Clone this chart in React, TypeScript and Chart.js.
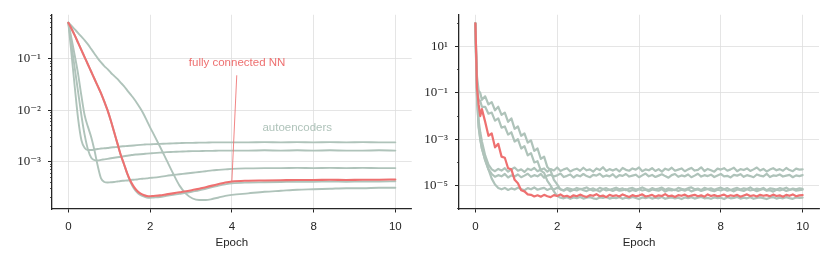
import React, { useEffect, useRef } from 'react';
import { Chart, registerables } from 'chart.js';

Chart.register(...registerables);

const GRAY = '#afc3ba';
const RED = '#ee7070';
const AXIS = '#262626';
const GRID = '#dedede';
const SANS = '"Liberation Sans", Arial, sans-serif';
const SERIF = '"Liberation Serif", "DejaVu Serif", serif';

// ---- shared x axis ticks ----
const xTickPositions = [0, 2.5, 5, 7.5, 10];
const xTickLabels = ['0', '2', '4', '8', '10'];

// ---- left panel (log10 of loss) ----
const leftX = [0, 0.1, 0.2, 0.3, 0.4, 0.5, 0.6, 0.7, 0.8, 0.9, 1.0, 1.1, 1.2, 1.3, 1.4, 1.5, 1.6, 1.7, 1.8, 1.9, 2.0, 2.1, 2.2, 2.3, 2.4, 2.5, 2.6, 2.8, 3.0, 3.2, 3.4, 3.6, 3.8, 4.0, 4.2, 4.4, 4.6, 4.8, 5.0, 5.5, 6.0, 6.5, 7.0, 7.5, 8.0, 8.5, 9.0, 9.5, 10.0];

const leftFcnnLog = [-0.30, -0.42, -0.55, -0.69, -0.83, -0.97, -1.11, -1.25, -1.39, -1.53, -1.67, -1.83, -2.00, -2.20, -2.42, -2.64, -2.86, -3.04, -3.22, -3.37, -3.48, -3.56, -3.61, -3.64, -3.66, -3.665, -3.66, -3.65, -3.63, -3.61, -3.59, -3.57, -3.545, -3.52, -3.49, -3.46, -3.43, -3.40, -3.38, -3.365, -3.36, -3.355, -3.35, -3.35, -3.345, -3.35, -3.345, -3.345, -3.34];

const leftAe1Log = [-0.30, -0.93, -1.57, -2.17, -2.58, -2.73, -2.77, -2.77, -2.76, -2.75, -2.74, -2.735, -2.73, -2.72, -2.715, -2.71, -2.70, -2.695, -2.69, -2.685, -2.68, -2.675, -2.67, -2.665, -2.66, -2.66, -2.655, -2.65, -2.645, -2.64, -2.635, -2.63, -2.63, -2.625, -2.625, -2.62, -2.62, -2.62, -2.62, -2.62, -2.615, -2.62, -2.615, -2.62, -2.615, -2.62, -2.615, -2.62, -2.62];

const leftAe2Log = [-0.30, -0.75, -1.20, -1.65, -2.10, -2.48, -2.76, -2.92, -2.965, -2.97, -2.96, -2.95, -2.94, -2.93, -2.92, -2.91, -2.90, -2.89, -2.88, -2.87, -2.86, -2.855, -2.85, -2.845, -2.84, -2.835, -2.83, -2.82, -2.81, -2.805, -2.80, -2.795, -2.79, -2.79, -2.785, -2.785, -2.78, -2.78, -2.78, -2.78, -2.775, -2.78, -2.775, -2.78, -2.775, -2.78, -2.78, -2.775, -2.78];

const leftAe3Log = [-0.30, -0.62, -0.95, -1.30, -1.72, -2.10, -2.32, -2.52, -2.78, -3.08, -3.32, -3.39, -3.40, -3.395, -3.39, -3.38, -3.37, -3.365, -3.36, -3.35, -3.345, -3.34, -3.33, -3.325, -3.32, -3.31, -3.305, -3.29, -3.27, -3.255, -3.24, -3.225, -3.21, -3.195, -3.18, -3.165, -3.155, -3.145, -3.135, -3.125, -3.12, -3.12, -3.115, -3.12, -3.115, -3.12, -3.115, -3.12, -3.12];

const leftAe4Log = [-0.30, -0.42, -0.55, -0.69, -0.83, -0.97, -1.11, -1.25, -1.39, -1.53, -1.67, -1.83, -2.00, -2.20, -2.42, -2.64, -2.86, -3.04, -3.23, -3.39, -3.51, -3.59, -3.64, -3.67, -3.69, -3.695, -3.69, -3.68, -3.66, -3.64, -3.62, -3.60, -3.575, -3.55, -3.52, -3.49, -3.46, -3.435, -3.415, -3.40, -3.395, -3.39, -3.385, -3.385, -3.38, -3.385, -3.38, -3.38, -3.375];

const leftAe5Log = [-0.30, -0.36, -0.43, -0.50, -0.57, -0.64, -0.72, -0.81, -0.90, -0.99, -1.07, -1.14, -1.20, -1.27, -1.33, -1.39, -1.46, -1.53, -1.61, -1.69, -1.77, -1.86, -1.96, -2.07, -2.20, -2.33, -2.45, -2.70, -2.96, -3.22, -3.46, -3.62, -3.71, -3.74, -3.74, -3.72, -3.69, -3.66, -3.64, -3.61, -3.58, -3.56, -3.54, -3.53, -3.52, -3.51, -3.51, -3.50, -3.50];

const leftYMin = 1.22e-4;
const leftYMax = 0.716;
const leftYTickValues = [1e-1, 1e-2, 1e-3];
const leftYTickLabels = ['10⁻¹', '10⁻²', '10⁻³'];
const leftYMinorValues = [2e-4, 3e-4, 4e-4, 5e-4, 6e-4, 7e-4, 8e-4, 9e-4, 2e-3, 3e-3, 4e-3, 5e-3, 6e-3, 7e-3, 8e-3, 9e-3, 2e-2, 3e-2, 4e-2, 5e-2, 6e-2, 7e-2, 8e-2, 9e-2, 2e-1, 3e-1, 4e-1, 5e-1, 6e-1, 7e-1];

const annotationTexts = [
  { text: 'fully connected NN', x: 5.16, y: 0.083, color: RED },
  { text: 'autoencoders', x: 7.0, y: 4.6e-3, color: GRAY },
];
const annotationArrow = { fromX: 5.15, fromY: 0.048, toX: 5.0, toY: 4.17e-4 };

// ---- right panel (log10 of loss) ----
const rightX = [0, 0.02, 0.05, 0.1, 0.15, 0.2,
  0.3, 0.4, 0.5, 0.6, 0.7, 0.8, 0.9, 1.0, 1.1, 1.2,
  1.3, 1.4, 1.5, 1.6, 1.7, 1.8, 1.9, 2.0, 2.1, 2.2,
  2.3, 2.4, 2.5, 2.6, 2.7, 2.8, 2.9, 3.0, 3.1, 3.2,
  3.3, 3.4, 3.5, 3.6, 3.7, 3.8, 3.9, 4.0, 4.1, 4.2,
  4.3, 4.4, 4.5, 4.6, 4.7, 4.8, 4.9, 5.0, 5.1, 5.2,
  5.3, 5.4, 5.5, 5.6, 5.7, 5.8, 5.9, 6.0, 6.1, 6.2,
  6.3, 6.4, 6.5, 6.6, 6.7, 6.8, 6.9, 7.0, 7.1, 7.2,
  7.3, 7.4, 7.5, 7.6, 7.7, 7.8, 7.9, 8.0, 8.1, 8.2,
  8.3, 8.4, 8.5, 8.6, 8.7, 8.8, 8.9, 9.0, 9.1, 9.2,
  9.3, 9.4, 9.5, 9.6, 9.7, 9.8, 9.9, 10.0];

const rightFcnnLog = [2.0, 1.0, -0.8, -1.5, -2.0, -1.7,
  -2.25, -2.85, -2.75, -3.35, -3.2, -3.75, -3.8, -4.25, -4.3, -4.75,
  -4.9, -5.2, -5.25, -5.38, -5.4, -5.47, -5.42, -5.48, -5.4, -5.46,
  -5.5, -5.41, -5.45, -5.38, -5.47, -5.44, -5.5, -5.42, -5.46, -5.39,
  -5.45, -5.49, -5.41, -5.44, -5.37, -5.46, -5.43, -5.5, -5.4, -5.45,
  -5.42, -5.47, -5.38, -5.44, -5.49, -5.41, -5.46, -5.43, -5.38, -5.47,
  -5.44, -5.4, -5.48, -5.42, -5.45, -5.37, -5.46, -5.43, -5.49, -5.41,
  -5.44, -5.39, -5.47, -5.43, -5.4, -5.46, -5.42, -5.48, -5.38, -5.45,
  -5.41, -5.46, -5.43, -5.39, -5.47, -5.42, -5.45, -5.4, -5.48, -5.43,
  -5.38, -5.45, -5.42, -5.47, -5.4, -5.44, -5.41, -5.46, -5.39, -5.45,
  -5.42, -5.48, -5.4, -5.44, -5.38, -5.46, -5.42, -5.41];

const rightAe1Log = [2.0, 0.8, -1.0, -2.2, -2.7, -3.1,
  -3.7, -4.1, -4.3, -4.38, -4.28, -4.35, -4.25, -4.4, -4.3, -4.22,
  -4.36, -4.3, -4.41, -4.27, -4.33, -4.24, -4.38, -4.31, -4.26, -4.4,
  -4.29, -4.35, -4.22, -4.37, -4.3, -4.25, -4.39, -4.32, -4.27, -4.36,
  -4.23, -4.34, -4.3, -4.4, -4.26, -4.33, -4.21, -4.37, -4.29, -4.35,
  -4.28, -4.39, -4.24, -4.32, -4.36, -4.26, -4.31, -4.22, -4.38, -4.3,
  -4.34, -4.25, -4.37, -4.29, -4.4, -4.27, -4.33, -4.23, -4.36, -4.31,
  -4.26, -4.38, -4.3, -4.24, -4.35, -4.32, -4.21, -4.37, -4.28, -4.34,
  -4.4, -4.27, -4.31, -4.25, -4.36, -4.3, -4.23, -4.38, -4.29, -4.33,
  -4.26, -4.37, -4.3, -4.22, -4.35, -4.28, -4.39, -4.31, -4.25, -4.34,
  -4.29, -4.36, -4.24, -4.33, -4.38, -4.27, -4.31, -4.3];

const rightAe2Log = [2.0, 0.5, -1.2, -2.5, -3.0, -3.4,
  -3.9, -4.3, -4.5, -4.62, -4.55, -4.6, -4.5, -4.65, -4.56, -4.61,
  -4.52, -4.64, -4.57, -4.49, -4.62, -4.55, -4.6, -4.5, -4.66, -4.57,
  -4.53, -4.61, -4.56, -4.48, -4.63, -4.58, -4.52, -4.65, -4.55, -4.6,
  -4.5, -4.59, -4.64, -4.54, -4.57, -4.49, -4.62, -4.56, -4.6, -4.51,
  -4.65, -4.55, -4.58, -4.5, -4.61, -4.57, -4.53, -4.64, -4.56, -4.48,
  -4.6, -4.54, -4.63, -4.57, -4.51, -4.59, -4.66, -4.55, -4.5, -4.62,
  -4.56, -4.6, -4.52, -4.64, -4.57, -4.49, -4.61, -4.55, -4.59, -4.53,
  -4.63, -4.56, -4.5, -4.6, -4.58, -4.65, -4.54, -4.57, -4.51, -4.62,
  -4.55, -4.59, -4.64, -4.52, -4.57, -4.6, -4.49, -4.63, -4.56, -4.58,
  -4.52, -4.61, -4.57, -4.54, -4.64, -4.56, -4.59, -4.55];

const rightAe3Log = [2.0, 0.6, -1.1, -2.4, -3.0, -3.4,
  -3.9, -4.3, -4.7, -4.95, -5.1, -5.16, -5.1, -5.19, -5.12, -5.17,
  -5.09, -5.15, -5.2, -5.11, -5.16, -5.08, -5.18, -5.13, -5.1, -5.19,
  -5.12, -5.17, -5.09, -5.15, -5.2, -5.11, -5.14, -5.18, -5.1, -5.16,
  -5.13, -5.08, -5.17, -5.12, -5.19, -5.1, -5.15, -5.11, -5.18, -5.14,
  -5.09, -5.16, -5.12, -5.2, -5.13, -5.1, -5.17, -5.14, -5.08, -5.15,
  -5.19, -5.11, -5.16, -5.13, -5.09, -5.18, -5.12, -5.15, -5.2, -5.1,
  -5.14, -5.17, -5.11, -5.08, -5.16, -5.13, -5.19, -5.1, -5.15, -5.12,
  -5.18, -5.13, -5.09, -5.16, -5.11, -5.19, -5.14, -5.1, -5.17, -5.12,
  -5.15, -5.08, -5.18, -5.13, -5.16, -5.1, -5.2, -5.12, -5.14, -5.17,
  -5.11, -5.15, -5.09, -5.18, -5.13, -5.16, -5.12, -5.14];

const rightAe4Log = [2.0, 1.0, -0.3, -0.9, -1.0, -1.3,
  -1.15, -1.5, -1.4, -1.75, -1.6, -1.95, -1.85, -2.25, -2.1, -2.55,
  -2.45, -2.85, -2.75, -3.15, -3.05, -3.5, -3.4, -3.85, -3.75, -4.2,
  -4.35, -4.75, -4.95, -5.17, -5.22, -5.15, -5.25, -5.18, -5.21, -5.14,
  -5.2, -5.24, -5.16, -5.22, -5.19, -5.26, -5.15, -5.21, -5.18, -5.23,
  -5.17, -5.22, -5.2, -5.15, -5.25, -5.19, -5.23, -5.16, -5.21, -5.18,
  -5.24, -5.17, -5.2, -5.22, -5.15, -5.26, -5.19, -5.21, -5.17, -5.23,
  -5.18, -5.22, -5.16, -5.25, -5.2, -5.17, -5.23, -5.19, -5.15, -5.21,
  -5.24, -5.18, -5.21, -5.16, -5.22, -5.19, -5.25, -5.17, -5.2, -5.23,
  -5.16, -5.21, -5.18, -5.24, -5.19, -5.15, -5.22, -5.2, -5.26, -5.18,
  -5.21, -5.17, -5.23, -5.19, -5.16, -5.22, -5.2, -5.18];

const rightAe5Log = [2.0, 0.7, -0.6, -1.3, -1.35, -1.6,
  -1.6, -1.9, -1.85, -2.2, -2.1, -2.5, -2.45, -2.8, -2.7, -3.1,
  -3.0, -3.4, -3.3, -3.7, -3.6, -4.0, -3.95, -4.35, -4.45, -4.8,
  -5.0, -5.25, -5.45, -5.52, -5.55, -5.5, -5.57, -5.51, -5.54, -5.49,
  -5.56, -5.52, -5.5, -5.55, -5.58, -5.51, -5.53, -5.49, -5.56, -5.52,
  -5.54, -5.5, -5.57, -5.52, -5.55, -5.49, -5.53, -5.58, -5.51, -5.54,
  -5.5, -5.56, -5.52, -5.55, -5.49, -5.57, -5.53, -5.51, -5.55, -5.52,
  -5.58, -5.51, -5.54, -5.5, -5.56, -5.52, -5.49, -5.55, -5.53, -5.57,
  -5.51, -5.54, -5.52, -5.58, -5.5, -5.55, -5.53, -5.49, -5.56, -5.52,
  -5.55, -5.5, -5.57, -5.53, -5.51, -5.54, -5.58, -5.52, -5.5, -5.56,
  -5.52, -5.55, -5.5, -5.54, -5.57, -5.51, -5.53, -5.52];

const rightYMin = 9.77e-7;
const rightYMax = 234;
const rightYTickValues = [1e1, 1e-1, 1e-3, 1e-5];
const rightYTickLabels = ['10¹', '10⁻¹', '10⁻³', '10⁻⁵'];
const rightYMinorValues = [1e2, 1e0, 1e-2, 1e-4, 1e-6];

// ---- helpers ----
function series(xs: number[], logs: number[]) {
  return xs.map((x, i) => ({ x, y: Math.pow(10, logs[i]) }));
}

// Chart.js paints dataset 0 last (on top), so the red series goes first.
function lineDs(xs: number[], logs: number[], color: string, width: number, smooth: boolean) {
  return {
    data: series(xs, logs),
    borderColor: color,
    borderWidth: width,
    pointRadius: 0,
    fill: false,
    borderJoinStyle: 'round',
    borderCapStyle: 'round',
    tension: 0,
    cubicInterpolationMode: smooth ? 'monotone' : 'default',
  };
}

const annotationPlugin = {
  id: 'textAnnotations',
  afterDatasetsDraw(chart: any) {
    const { ctx } = chart;
    const xs = chart.scales.x;
    const ys = chart.scales.y;
    ctx.save();
    ctx.strokeStyle = RED;
    ctx.globalAlpha = 0.85;
    ctx.lineWidth = 1;
    ctx.beginPath();
    ctx.moveTo(xs.getPixelForValue(annotationArrow.fromX), ys.getPixelForValue(annotationArrow.fromY));
    ctx.lineTo(xs.getPixelForValue(annotationArrow.toX), ys.getPixelForValue(annotationArrow.toY));
    ctx.stroke();
    ctx.globalAlpha = 1;
    ctx.font = `11.5px ${SANS}`;
    ctx.textAlign = 'center';
    ctx.textBaseline = 'middle';
    for (const a of annotationTexts) {
      ctx.fillStyle = a.color;
      ctx.fillText(a.text, xs.getPixelForValue(a.x), ys.getPixelForValue(a.y));
    }
    ctx.restore();
  },
};

function buildConfig(p: {
  datasets: any[];
  yMin: number;
  yMax: number;
  yTickValues: number[];
  yTickLabels: string[];
  yMinorValues: number[];
  yWidth: number;
  padRight: number;
  annotate: boolean;
}): any {
  return {
    type: 'line',
    data: { datasets: p.datasets },
    options: {
      animation: false,
      responsive: false,
      maintainAspectRatio: false,
      events: [],
      layout: { padding: { top: 12, right: p.padRight, bottom: 0, left: 0 } },
      plugins: { legend: { display: false }, tooltip: { enabled: false } },
      scales: {
        x: {
          type: 'linear',
          min: -0.5,
          max: 10.5,
          afterBuildTicks: (ax: any) => {
            ax.ticks = xTickPositions.map((v) => ({ value: v }));
          },
          afterFit: (ax: any) => {
            ax.height = 52;
          },
          ticks: {
            callback: (_v: any, i: number) => xTickLabels[i],
            autoSkip: false,
            maxRotation: 0,
            padding: 7,
            color: AXIS,
            font: { size: 11.5, family: SANS },
          },
          grid: { color: GRID, lineWidth: 0.8, tickColor: AXIS, tickLength: 3.5, tickWidth: 1 },
          border: { color: AXIS, width: 1.3 },
          title: {
            display: true,
            text: 'Epoch',
            color: AXIS,
            font: { size: 11.5, family: SANS },
            padding: { top: 0, bottom: 11 },
          },
        },
        y: {
          type: 'logarithmic',
          position: 'left',
          weight: 1,
          min: p.yMin,
          max: p.yMax,
          afterBuildTicks: (ax: any) => {
            ax.ticks = p.yTickValues.map((v) => ({ value: v }));
          },
          afterFit: (ax: any) => {
            ax.width = p.yWidth;
          },
          ticks: {
            callback: (_v: any, i: number) => p.yTickLabels[i],
            autoSkip: false,
            padding: 7,
            color: AXIS,
            font: { size: 13, family: SERIF },
          },
          grid: { color: GRID, lineWidth: 0.8, tickColor: AXIS, tickLength: 4, tickWidth: 1 },
          border: { color: AXIS, width: 1.3 },
        },
        yMinor: {
          type: 'logarithmic',
          position: 'left',
          weight: 0,
          min: p.yMin,
          max: p.yMax,
          afterBuildTicks: (ax: any) => {
            ax.ticks = p.yMinorValues.map((v) => ({ value: v }));
          },
          afterFit: (ax: any) => {
            ax.width = 0;
          },
          ticks: { display: false },
          grid: { drawOnChartArea: false, tickColor: AXIS, tickLength: 2, tickWidth: 0.8 },
          border: { display: false },
        },
      },
    },
    plugins: p.annotate ? [annotationPlugin] : [],
  };
}

function ChartCanvas({ config, width, height }: { config: () => any; width: number; height: number }) {
  const ref = useRef<HTMLCanvasElement | null>(null);
  useEffect(() => {
    if (!ref.current) return;
    const chart = new Chart(ref.current, config());
    return () => chart.destroy();
  }, []);
  return <canvas ref={ref} width={width} height={height} style={{ display: 'block', width, height }} />;
}

export default function App() {
  const leftConfig = () =>
    buildConfig({
      datasets: [
        lineDs(leftX, leftFcnnLog, RED, 2.1, true),
        lineDs(leftX, leftAe4Log, GRAY, 1.9, true),
        lineDs(leftX, leftAe5Log, GRAY, 1.9, true),
        lineDs(leftX, leftAe3Log, GRAY, 1.9, true),
        lineDs(leftX, leftAe2Log, GRAY, 1.9, true),
        lineDs(leftX, leftAe1Log, GRAY, 1.9, true),
      ],
      yMin: leftYMin,
      yMax: leftYMax,
      yTickValues: leftYTickValues,
      yTickLabels: leftYTickLabels,
      yMinorValues: leftYMinorValues,
      yWidth: 52,
      padRight: 3.3,
      annotate: true,
    });
  const rightConfig = () =>
    buildConfig({
      datasets: [
        lineDs(rightX, rightFcnnLog, RED, 2.2, false),
        lineDs(rightX, rightAe5Log, GRAY, 2.2, false),
        lineDs(rightX, rightAe4Log, GRAY, 2.2, false),
        lineDs(rightX, rightAe3Log, GRAY, 2.2, false),
        lineDs(rightX, rightAe2Log, GRAY, 2.2, false),
        lineDs(rightX, rightAe1Log, GRAY, 2.2, false),
      ],
      yMin: rightYMin,
      yMax: rightYMax,
      yTickValues: rightYTickValues,
      yTickLabels: rightYTickLabels,
      yMinorValues: rightYMinorValues,
      yWidth: 44,
      padRight: 12,
      annotate: false,
    });
  return (
    <div style={{ position: 'fixed', left: 0, top: 0, width: 831, height: 261, display: 'flex', background: '#fff' }}>
      <ChartCanvas config={leftConfig} width={415} height={261} />
      <ChartCanvas config={rightConfig} width={416} height={261} />
    </div>
  );
}
